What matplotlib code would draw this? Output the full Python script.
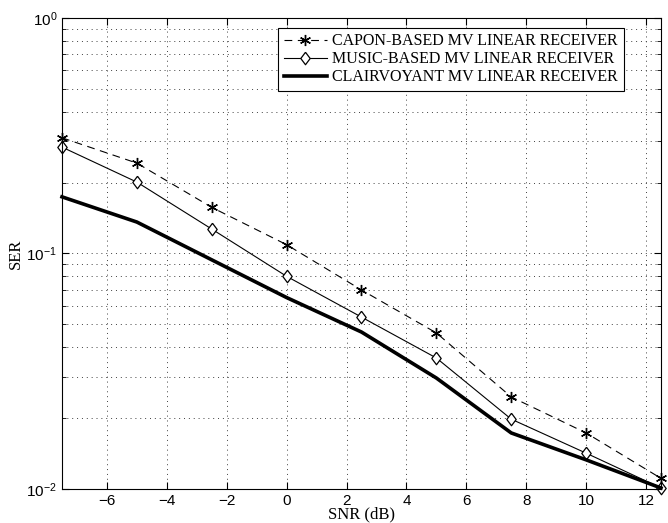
import numpy as np
import matplotlib
matplotlib.use("Agg")
import matplotlib.pyplot as plt
from matplotlib.ticker import LogLocator, NullFormatter

snr = [-7.5, -5, -2.5, 0, 2.5, 5, 7.5, 10, 12.5]
ser_capon = [0.31, 0.242, 0.157, 0.109, 0.070, 0.046, 0.0246, 0.0173, 0.0111]
ser_music = [0.283, 0.201, 0.127, 0.080, 0.0537, 0.036, 0.0198, 0.0142, 0.0101]
ser_clair = [0.174, 0.136, 0.094, 0.065, 0.0464, 0.0296, 0.0173, 0.0133, 0.0101]

labels = ["CAPON-BASED MV LINEAR RECEIVER",
          "MUSIC-BASED MV LINEAR RECEIVER",
          "CLAIRVOYANT MV LINEAR RECEIVER"]

# diamond a bit wider than matplotlib's thin 'd'
diamond = [(0, 1), (0.75, 0), (0, -1), (-0.75, 0), (0, 1)]

fig = plt.figure(figsize=(6.68, 5.23), dpi=100)
ax = fig.add_axes([0.0928, 0.065, 0.8967, 0.9006])

ax.semilogy(snr, ser_capon, 'k--', marker=(6, 2, 0), markersize=8,
            linewidth=0.8, dashes=(7, 5), label=labels[0], clip_on=False)
ax.semilogy(snr, ser_music, 'k-', marker=diamond, markersize=9, markerfacecolor='white',
            markeredgewidth=0.9, linewidth=0.8, label=labels[1], clip_on=False)
ax.semilogy(snr, ser_clair, 'k-', linewidth=2.6, label=labels[2], clip_on=False)

ax.set_xlim(-7.5, 12.5)
ax.set_ylim(1e-2, 1)
ax.set_xticks([-6, -4, -2, 0, 2, 4, 6, 8, 10, 12])
ax.yaxis.set_major_locator(LogLocator(base=10))
ax.yaxis.set_minor_locator(LogLocator(base=10, subs=np.arange(2, 10)))
ax.yaxis.set_minor_formatter(NullFormatter())

grid_style = dict(linestyle=(0, (1, 4)), color='0.25', linewidth=0.7)
ax.grid(True, which='major', **grid_style)
ax.grid(True, which='minor', axis='y', **grid_style)
ax.tick_params(which='both', direction='in', top=True, right=True)
ax.tick_params(which='major', length=5, labelsize=11)
ax.tick_params(which='minor', length=3)
for t in ax.get_xticklabels() + ax.get_yticklabels():
    t.set_family('Liberation Sans')

ax.set_xlabel('SNR (dB)', family='Liberation Serif', fontsize=12, labelpad=-1)
ax.set_ylabel('SER', family='Liberation Serif', fontsize=12, labelpad=2)

leg = ax.legend(loc='upper left', bbox_to_anchor=(0.3606, 0.979),
                prop={'family': 'Liberation Serif', 'size': 11.5},
                fancybox=False, edgecolor='k', framealpha=1, handlelength=2.7,
                borderaxespad=0, borderpad=0.35, labelspacing=0.12,
                handletextpad=0.35)
leg.get_frame().set_linewidth(0.8)

fig.savefig('out.png', dpi=100)
